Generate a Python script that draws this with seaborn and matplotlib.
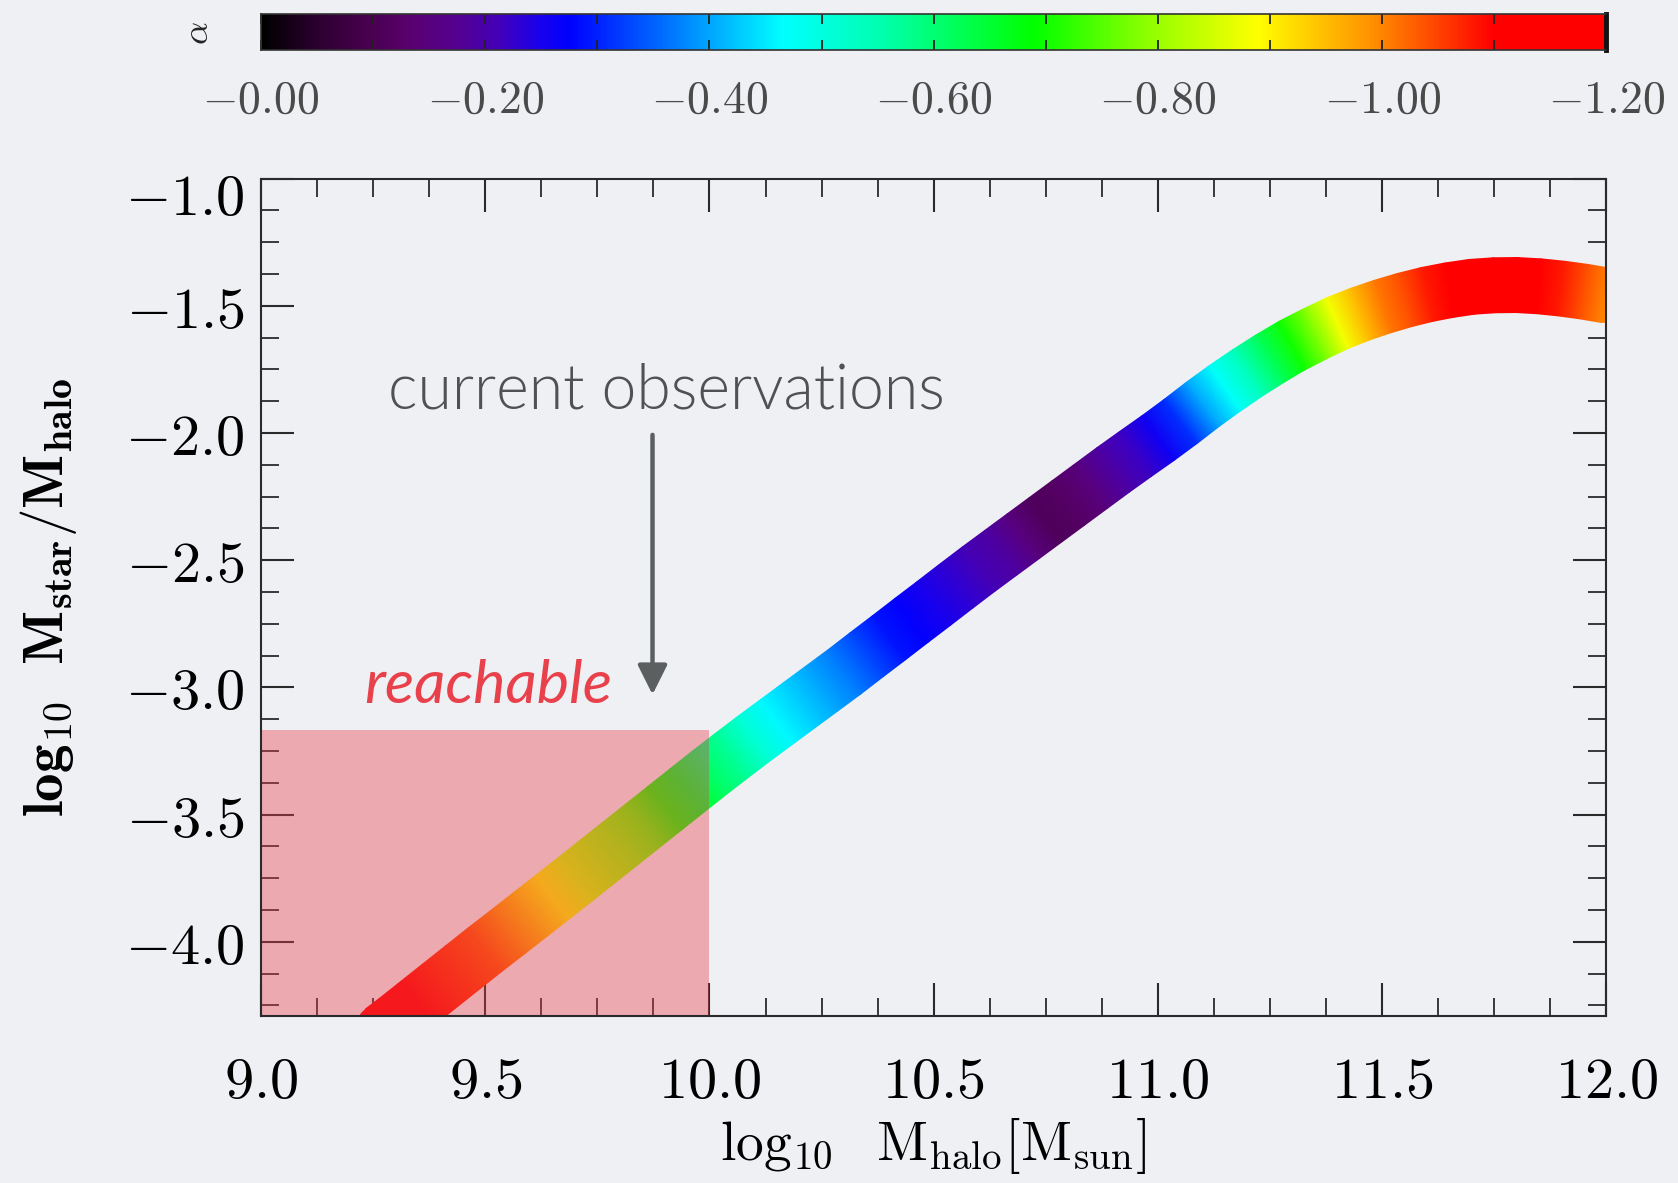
import numpy as np
import pandas as pd
import matplotlib
matplotlib.use("Agg")
import matplotlib.pyplot as plt
import seaborn as sns
from matplotlib.colors import LinearSegmentedColormap
from matplotlib.patches import Rectangle
from matplotlib.transforms import ScaledTranslation
from matplotlib.ticker import FixedLocator, FixedFormatter, MultipleLocator

# ---------------- data ----------------
log_mhalo = [9.24, 9.27, 9.30, 9.35, 9.40, 9.45, 9.50, 9.55, 9.60, 9.65, 9.70, 9.75,
             9.80, 9.85, 9.90, 9.95, 10.00, 10.05, 10.10, 10.15, 10.20, 10.25, 10.30,
             10.35, 10.40, 10.45, 10.50, 10.55, 10.60, 10.65, 10.70, 10.75, 10.80,
             10.85, 10.90, 10.95, 11.00, 11.05, 11.10, 11.15, 11.20, 11.25, 11.30,
             11.35, 11.40, 11.45, 11.50, 11.55, 11.60, 11.65, 11.70, 11.75, 11.80,
             11.85, 11.90, 11.95, 12.00]
log_ratio = [-4.395, -4.350, -4.310, -4.240, -4.170, -4.100, -4.030, -3.962, -3.893,
             -3.824, -3.755, -3.685, -3.615, -3.545, -3.475, -3.405, -3.335, -3.267,
             -3.200, -3.135, -3.070, -3.005, -2.940, -2.872, -2.805, -2.737, -2.670,
             -2.602, -2.535, -2.470, -2.405, -2.340, -2.275, -2.210, -2.145, -2.082,
             -2.020, -1.955, -1.887, -1.823, -1.763, -1.707, -1.655, -1.610, -1.568,
             -1.533, -1.503, -1.477, -1.455, -1.438, -1.425, -1.419, -1.418, -1.423,
             -1.432, -1.444, -1.459]
alpha_slope = [0.00, -1.16, -1.14, -1.10, -1.08, -1.06, -1.04, -1.00, -0.95, -0.90,
               -0.85, -0.82, -0.79, -0.76, -0.71, -0.66, -0.61, -0.57, -0.51, -0.46,
               -0.43, -0.40, -0.37, -0.33, -0.29, -0.27, -0.25, -0.23, -0.21, -0.19,
               -0.15, -0.11, -0.12, -0.15, -0.19, -0.22, -0.26, -0.31, -0.40, -0.47,
               -0.54, -0.62, -0.70, -0.78, -0.88, -0.95, -1.01, -1.04, -1.08, -1.13,
               -1.16, -1.18, -1.17, -1.12, -1.08, -1.04, -1.00]

x_ticks = [9.0, 9.5, 10.0, 10.5, 11.0, 11.5, 12.0]
x_tick_labels = ["9.0", "9.5", "10.0", "10.5", "11.0", "11.5", "12.0"]
y_ticks = [-1.0, -1.5, -2.0, -2.5, -3.0, -3.5, -4.0]
y_tick_labels = ["-1.0", "-1.5", "-2.0", "-2.5", "-3.0", "-3.5", "-4.0"]
cbar_ticks = [0.0, -0.2, -0.4, -0.6, -0.8, -1.0, -1.2]
cbar_tick_labels = ["-0.00", "-0.20", "-0.40", "-0.60", "-0.80", "-1.00", "-1.20"]

reachable_x = [9.0, 10.0]
reachable_top = -3.166
arrow_x = 9.873
arrow_y = [-2.007, -3.028]

# colour table (fraction of |alpha|/1.2 -> colour)
cmap_nodes = [(0.0, "#000000"), (0.04, "#2c0030"), (0.08, "#4a0050"), (0.11, "#5a0070"),
              (0.145, "#550092"), (0.175, "#4400b8"), (0.205, "#1c00ec"), (0.228, "#0000ff"),
              (0.30, "#0070ff"), (0.387, "#00ffff"), (0.46, "#00ffb0"), (0.574, "#00ff00"),
              (0.66, "#90ff00"), (0.741, "#ffff00"), (0.827, "#ff9000"), (0.917, "#ff0000"),
              (1.0, "#ff0000")]

# ---------------- styling ----------------
sns.set_theme(style="ticks")
BG = "#eff0f4"
plt.rcParams.update({
    "mathtext.fontset": "cm",
    "font.family": ["DejaVu Serif"],
    "axes.facecolor": BG,
    "figure.facecolor": BG,
    "savefig.facecolor": BG,
})

cmap = LinearSegmentedColormap.from_list("idl_rainbow", cmap_nodes, N=512)
cmap_r = cmap.reversed()          # value -1.2 -> red, 0 -> black
norm = plt.Normalize(-1.2, 0.0)

W, H = 1678, 1183
fig = plt.figure(figsize=(W / 100, H / 100), dpi=100)
ax_l, ax_r, ax_t, ax_b = 261, 1606.4, 178.7, 1015.6
ax = fig.add_axes([ax_l / W, 1 - ax_b / H, (ax_r - ax_l) / W, (ax_b - ax_t) / H])
ax.set_facecolor(BG)
XLIM = (9.0, 12.0)
YLIM = (-4.29, -1.0)
ax.set_xlim(*XLIM)
ax.set_ylim(*YLIM)

df = pd.DataFrame({"log_mhalo": log_mhalo, "log_ratio": log_ratio, "alpha": alpha_slope})

band_px = 55.0                      # band thickness in pixels
band_pt = band_px * 72 / 100
# discs at the read points (give the rounded ends of the band)
sns.scatterplot(data=df, x="log_mhalo", y="log_ratio", hue="alpha", palette=cmap_r,
                hue_norm=(-1.2, 0.0), s=band_pt ** 2, linewidth=0, edgecolor="none",
                legend=False, ax=ax, zorder=1.9)

# smooth colour band: quad strip around the curve, gouraud shaded by alpha
sx = (ax_r - ax_l) / (XLIM[1] - XLIM[0])     # px per dex
sy = (ax_b - ax_t) / (YLIM[1] - YLIM[0])
bx = np.asarray(log_mhalo[1:])
by = np.asarray(log_ratio[1:])
ba = np.asarray(alpha_slope[1:])
tx = np.gradient(bx) * sx
ty = np.gradient(by) * sy
tn = np.hypot(tx, ty)
nx, ny = -ty / tn, tx / tn
r = band_px / 2
X = np.vstack([bx - r * nx / sx, bx + r * nx / sx])
Y = np.vstack([by - r * ny / sy, by + r * ny / sy])
C = np.vstack([ba, ba])
ax.pcolormesh(X, Y, C, shading="gouraud", cmap=cmap_r, norm=norm, zorder=2.5,
              antialiased=True)

# reachable region
ax.add_patch(Rectangle((reachable_x[0], -5.0), reachable_x[1] - reachable_x[0],
                       reachable_top + 5.0, facecolor="#e8404a", alpha=0.4,
                       edgecolor="none", zorder=3))

# annotations
ax.annotate("", xy=(arrow_x, arrow_y[1]), xytext=(arrow_x, arrow_y[0]),
            arrowprops=dict(arrowstyle="-|>,head_length=0.9,head_width=0.45",
                            color="#5b5f5f", lw=3.2, mutation_scale=20,
                            shrinkA=0, shrinkB=0), zorder=4)
ax.text(9.903, -1.902, "current observations", ha="center", va="baseline",
        fontfamily="Lato", fontweight=300, fontsize=45, color="#505153", zorder=4)
ax.text(9.507, -3.062, "reachable", ha="center", va="baseline",
        fontfamily="Lato", fontstyle="italic", fontsize=44, color="#e8414b", zorder=4)

# axes
ax.set_xlim(*XLIM)
ax.set_ylim(*YLIM)
ax.xaxis.set_major_locator(FixedLocator(x_ticks))
ax.xaxis.set_major_formatter(FixedFormatter(["$%s$" % t for t in x_tick_labels]))
ax.yaxis.set_major_locator(FixedLocator(y_ticks))
ax.yaxis.set_major_formatter(FixedFormatter(["$%s$" % t for t in y_tick_labels]))
ax.xaxis.set_minor_locator(MultipleLocator(0.125))
ax.yaxis.set_minor_locator(MultipleLocator(0.125))
ax.set_xlabel("")
ax.set_ylabel("")
spine_c = "#2a2a2a"
for s in ax.spines.values():
    s.set_color(spine_c)
    s.set_linewidth(1.5)
    s.set_visible(True)
    s.set_zorder(5)
ax.tick_params(which="both", direction="in", top=True, right=True, color=spine_c)
ax.tick_params(which="major", length=24, width=1.5)
ax.tick_params(which="minor", length=13, width=1.3)
ax.tick_params(axis="x", which="major", labelsize=42, pad=28, labelcolor="black")
ax.tick_params(axis="y", which="major", labelsize=42, pad=12, labelcolor="black")

fig.canvas.draw()
for lab in ax.get_yticklabels():
    if lab.get_text() == "$-1.0$":
        lab.set_transform(lab.get_transform() + ScaledTranslation(0, -0.14, fig.dpi_scale_trans))

fig.text(0.5 * (ax_l + ax_r) / W, 1 - 1160 / H,
         r"$\log_{10}\ \ \mathrm{M_{halo}[M_{sun}]}$", ha="center", va="baseline",
         fontsize=40, color="black")
fig.text(49 / W, 1 - 598 / H,
         r"$\mathbf{log_{10}\ \ M_{star}/M_{halo}}$", ha="center", va="center",
         rotation=90, fontsize=41, color="black")

# colour bar
cax = fig.add_axes([ax_l / W, 1 - 50 / H, (ax_r - ax_l) / W, 36 / H])
grad = np.linspace(0.0, -1.2, 800)[None, :]
cax.imshow(grad, aspect="auto", cmap=cmap_r, norm=norm, extent=(0.0, -1.2, 0, 1),
           interpolation="bilinear")
cax.set_xlim(0.0, -1.2)
cax.set_ylim(0, 1)
cax.set_yticks([])
cax.xaxis.set_major_locator(FixedLocator(cbar_ticks))
cax.xaxis.set_major_formatter(FixedFormatter(["$%s$" % t for t in cbar_tick_labels]))
cax.xaxis.set_minor_locator(MultipleLocator(0.1))
cax.tick_params(axis="x", which="both", direction="in", top=True, bottom=True,
                length=7, width=1.3, color="#222222")
cax.tick_params(axis="x", which="major", labelsize=33, pad=20, labelcolor="#4a4a4a")
for s in cax.spines.values():
    s.set_color("#333333")
    s.set_linewidth(1.2)
cax.spines["right"].set_linewidth(3.5)
cax.spines["right"].set_color("#111111")
fig.text(198 / W, 1 - 33 / H, r"$\alpha$", rotation=90, ha="center", va="center",
         fontsize=26, color="#222222")

fig.savefig("out.png", dpi=100, facecolor=BG)
